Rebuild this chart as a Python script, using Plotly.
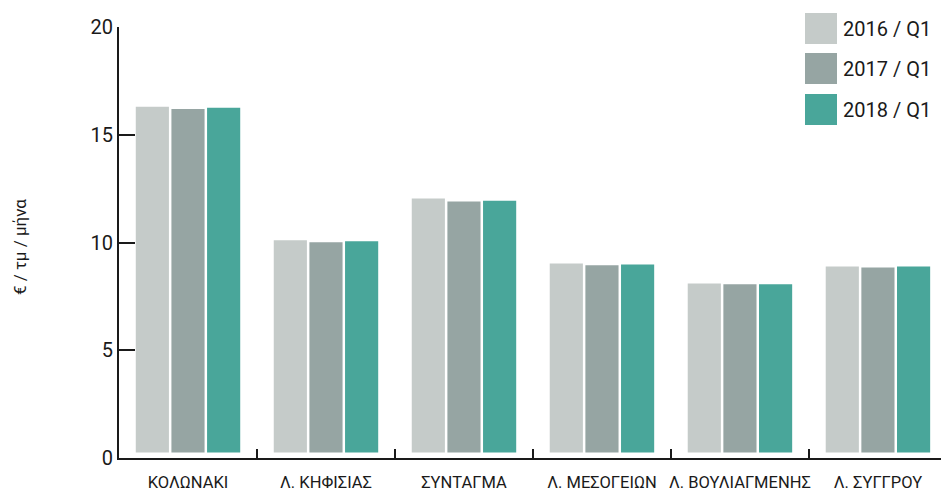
import plotly.graph_objects as go

# Average asking rent (€ per m² per month) by Athens district, Q1 of each year
districts = ["ΚΟΛΩΝΑΚΙ", "Λ. ΚΗΦΙΣΙΑΣ", "ΣΥΝΤΑΓΜΑ", "Λ. ΜΕΣΟΓΕΙΩΝ", "Λ. ΒΟΥΛΙΑΓΜΕΝΗΣ", "Λ. ΣΥΓΓΡΟΥ"]
periods = ["2016 / Q1", "2017 / Q1", "2018 / Q1"]
rent_2016 = [16.30, 10.11, 12.04, 9.03, 8.10, 8.89]
rent_2017 = [16.20, 10.01, 11.90, 8.94, 8.06, 8.84]
rent_2018 = [16.25, 10.06, 11.94, 8.98, 8.06, 8.89]
y_ticks = [0, 5, 10, 15, 20]
y_title = "€ / τμ / μήνα"

series = [rent_2016, rent_2017, rent_2018]
colors = ["#C5CBC9", "#96A5A3", "#49A69A"]

W, H = 941, 492
L, R, T, B = 119, 0, 27, 34
BAR_BASE = 0.25  # bars float slightly above the axis line
FONT = "Roboto, 'Liberation Sans', sans-serif"
INK = "#1a1a1a"

fig = go.Figure()
for name, vals, col in zip(periods, series, colors):
    fig.add_trace(go.Bar(
        x=districts,
        y=[v - BAR_BASE for v in vals],
        base=BAR_BASE,
        name=name,
        marker=dict(color=col, line=dict(width=0)),
        customdata=vals,
        hovertemplate="%{x}<br>" + name + ": %{customdata:.2f}<extra></extra>",
        showlegend=False,
    ))

plot_w = W - L - R
plot_h = H - T - B


def px_x(px):
    return (px - L) / plot_w


def px_y(py):
    return (H - B - py) / plot_h


# Hand-built legend with large colour swatches
shapes = []
annotations = []
legend_centers = [28.5, 68.5, 109.5]
for name, col, cy in zip(periods, colors, legend_centers):
    shapes.append(dict(
        type="rect", xref="paper", yref="paper",
        x0=px_x(805), x1=px_x(837), y0=px_y(cy + 15.5), y1=px_y(cy - 15.5),
        fillcolor=col, line=dict(width=0),
    ))
    annotations.append(dict(
        text=name, xref="paper", yref="paper",
        x=px_x(841), y=px_y(cy), xanchor="left", yanchor="middle",
        showarrow=False, font=dict(family=FONT, size=20, color=INK),
    ))

annotations.append(dict(
    text=y_title, xref="paper", yref="paper",
    x=px_x(20), y=px_y(247), xanchor="center", yanchor="middle",
    textangle=-90, showarrow=False,
    font=dict(family=FONT, size=17, color=INK),
))

fig.update_layout(
    width=W, height=H, autosize=False,
    margin=dict(l=L, r=R, t=T, b=B, pad=0),
    paper_bgcolor="white", plot_bgcolor="white",
    barmode="group", bargap=0.225, bargroupgap=0.07,
    font=dict(family=FONT, color=INK),
    shapes=shapes, annotations=annotations,
    showlegend=False,
)

fig.update_xaxes(
    type="category", range=[-0.5, 5.457],
    showline=True, linecolor=INK, linewidth=2,
    ticks="inside", tickson="boundaries", ticklen=9, tickwidth=1.5, tickcolor=INK,
    showgrid=False, zeroline=False,
    tickfont=dict(family=FONT, size=16.5, color=INK),
    tickangle=0, automargin=False,
    ticklabelstandoff=8,
)

fig.update_yaxes(
    range=[0, 20], tickvals=y_ticks,
    showline=True, linecolor=INK, linewidth=2,
    ticks="inside", ticklen=16, tickwidth=2, tickcolor=INK,
    showgrid=False, zeroline=False, automargin=False,
    tickfont=dict(family=FONT, size=20, color=INK),
)

fig.write_html("out.html")
